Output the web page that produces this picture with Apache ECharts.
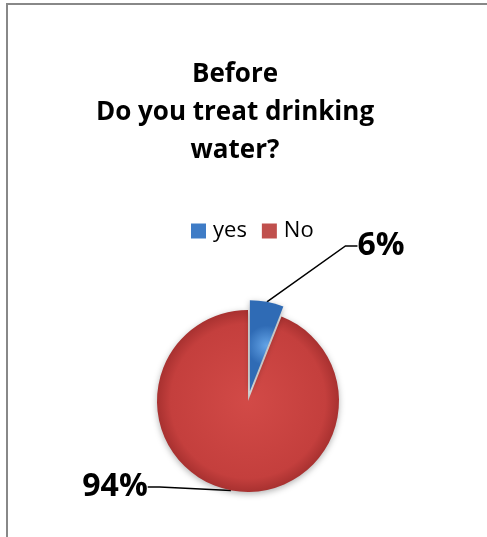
<!DOCTYPE html>
<html>
<head>
<meta charset="utf-8">
<script src="https://cdn.jsdelivr.net/npm/echarts@6/dist/echarts.min.js"></script>
<style>
html,body{margin:0;padding:0;background:#fff;}
#chart{width:487px;height:537px;}
</style>
</head>
<body>
<div id="chart"></div>
<script>
const titleText = 'Before\nDo you treat drinking\nwater?';
const categories = ['yes', 'No'];
const values = [6, 94];

const fills = [
  new echarts.graphic.RadialGradient(0.5, 0.5, 0.6, [
    {offset: 0, color: '#63a3e6'}, {offset: 1, color: '#2f6bb5'}
  ]),
  new echarts.graphic.RadialGradient(0.5, 0.5, 0.5, [
    {offset: 0, color: '#d24a47'}, {offset: 0.85, color: '#c43f3d'}, {offset: 1, color: '#a83130'}
  ])
];
const legendColors = ['#3f7cc6', '#c0504d'];

const center = [248, 401];
const radius = 91;
const explode = 10;
const total = values.reduce((a, b) => a + b, 0);
const midDeg = 90 - 360 * values[0] / total / 2;
const blueCenter = [
  center[0] + explode * Math.cos(midDeg * Math.PI / 180),
  center[1] - explode * Math.sin(midDeg * Math.PI / 180)
];

const font = 'Open Sans, Lato, sans-serif';
const labelPos = [[381, 246], [115, 487]];

function pieSeries(idx, c) {
  return {
    type: 'pie',
    center: c,
    radius: radius,
    startAngle: 90,
    clockwise: true,
    silent: true,
    legendHoverLink: false,
    data: categories.map((n, i) => ({
      name: n, value: values[i],
      itemStyle: i === idx
        ? {color: fills[i], shadowBlur: 6, shadowColor: 'rgba(0,0,0,0.3)', shadowOffsetY: 2}
        : {color: 'rgba(0,0,0,0)'},
      label: {show: i === idx},
      labelLine: {show: i === idx}
    })),
    label: {
      formatter: '{d}%',
      fontFamily: font, fontWeight: 'bold', fontSize: 32, color: '#000'
    },
    labelLine: {length: 20, length2: 12, lineStyle: {color: '#000', width: 1.5}},
    labelLayout: function (p) {
      return {x: labelPos[p.dataIndex][0], y: labelPos[p.dataIndex][1], align: 'center', verticalAlign: 'middle'};
    }
  };
}

const chart = echarts.init(document.getElementById('chart'));
chart.setOption({
  animation: false,
  color: legendColors,
  graphic: [{
    type: 'rect', shape: {x: 7, y: 4, width: 600, height: 700},
    style: {fill: 'none', stroke: '#888', lineWidth: 2}, silent: true
  }],
  title: {
    text: titleText, left: 230, top: 51, textAlign: 'center',
    textStyle: {fontFamily: font, fontWeight: 'bold', fontSize: 26, lineHeight: 38, color: '#000'}
  },
  legend: {
    top: 215, left: 186, itemWidth: 15, itemHeight: 15, itemGap: 15,
    icon: 'rect',
    textStyle: {fontFamily: font, fontSize: 22, color: '#000', padding: [0, 0, 0, 2]},
    data: categories.map((c, i) => ({name: c, itemStyle: {color: legendColors[i]}}))
  },
  series: [pieSeries(1, center), pieSeries(0, blueCenter)]
});
</script>
</body>
</html>
